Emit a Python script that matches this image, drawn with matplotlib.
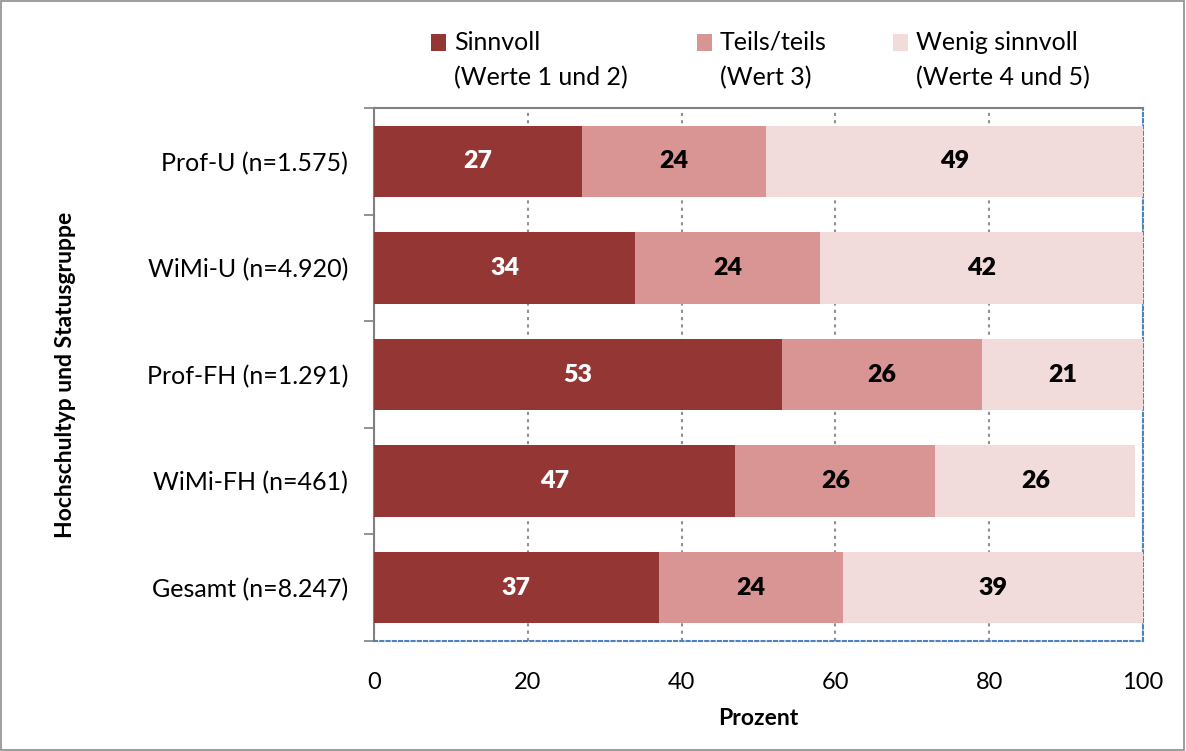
import matplotlib
matplotlib.use("Agg")
import matplotlib.pyplot as plt
from matplotlib.patches import Rectangle
import numpy as np

plt.rcParams['font.family'] = ['Lato', 'DejaVu Sans']

categories = ["Prof-U (n=1.575)", "WiMi-U (n=4.920)", "Prof-FH (n=1.291)",
              "WiMi-FH (n=461)", "Gesamt (n=8.247)"]
sinnvoll = [27, 34, 53, 47, 37]
teils = [24, 24, 26, 26, 24]
wenig = [49, 42, 21, 26, 39]

series_names = ["Sinnvoll", "Teils/teils", "Wenig sinnvoll"]
series_sub = ["(Werte 1 und 2)", "(Wert 3)", "(Werte 4 und 5)"]
series_colors = ["#943634", "#D99594", "#F2DBDB"]
label_colors = ["white", "black", "black"]
x_ticks = [0, 20, 40, 60, 80, 100]

fig = plt.figure(figsize=(11.86, 7.51), dpi=100)
ax = fig.add_axes([374 / 1186, 110 / 751, 769 / 1186, 533 / 751])

y = np.arange(len(categories))
left = np.zeros(len(categories))
for vals, color, tcolor in zip([sinnvoll, teils, wenig], series_colors, label_colors):
    vals = np.array(vals, dtype=float)
    ax.barh(y, vals, left=left, height=0.67, color=color, edgecolor="none", zorder=3)
    for yi, l, v in zip(y, left, vals):
        ax.text(l + v / 2, yi, f"{int(v)}", ha="center", va="center",
                color=tcolor, fontsize=18, fontweight="heavy", zorder=4)
    left += vals

ax.set_xlim(0, 100)
ax.set_ylim(len(categories) - 0.5, -0.5)

ax.set_xticks(x_ticks)
ax.set_xticklabels([str(t) for t in x_ticks], fontsize=17)
ax.tick_params(axis="x", length=0, pad=22)

# category boundaries carry the tick marks, labels sit at bar centres
ax.set_yticks(np.arange(-0.5, len(categories), 1.0))
ax.set_yticklabels([])
ax.tick_params(axis="y", which="major", length=7, width=1.2, color="#808080", direction="out")
ax.set_yticks(y, minor=True)
ax.set_yticklabels(categories, minor=True, fontsize=18)
ax.tick_params(axis="y", which="minor", length=0, pad=18.5)

ax.grid(axis="x", linestyle=(0, (1.5, 2)), color="#909090", linewidth=1.5, zorder=0)
ax.grid(axis="y", visible=False)

for side in ["top", "left"]:
    ax.spines[side].set_color("#808080")
    ax.spines[side].set_linewidth(1.5)
for side in ["bottom", "right"]:
    ax.spines[side].set_color("#4F81BD")
    ax.spines[side].set_linewidth(1.5)
    ax.spines[side].set_linestyle((0, (1.5, 1.5)))

ax.set_xlabel("Prozent", fontsize=16.5, fontweight="bold", labelpad=11)
fig.text(66 / 1186, 1 - 375 / 751, "Hochschultyp und Statusgruppe", rotation=90,
         ha="center", va="center", fontsize=16.5, fontweight="bold")

# legend built from series names and colours
legend_x = [431, 697, 893]
for lx, name, sub, color in zip(legend_x, series_names, series_sub, series_colors):
    fig.patches.append(Rectangle((lx / 1186, 1 - 51 / 751), 15 / 1186, 17 / 751,
                                 transform=fig.transFigure, facecolor=color,
                                 edgecolor="none"))
    fig.text((lx + 23) / 1186, 1 - 42 / 751, name, ha="left", va="center", fontsize=18)
    fig.text((lx + 23) / 1186, 1 - 77.5 / 751, sub, ha="left", va="center", fontsize=18)

fig.patches.append(Rectangle((0.0005, 0.001), 0.998, 0.998, transform=fig.transFigure,
                             facecolor="none", edgecolor="#8C8C8C", linewidth=1.2))

fig.savefig("out.png", dpi=100)
